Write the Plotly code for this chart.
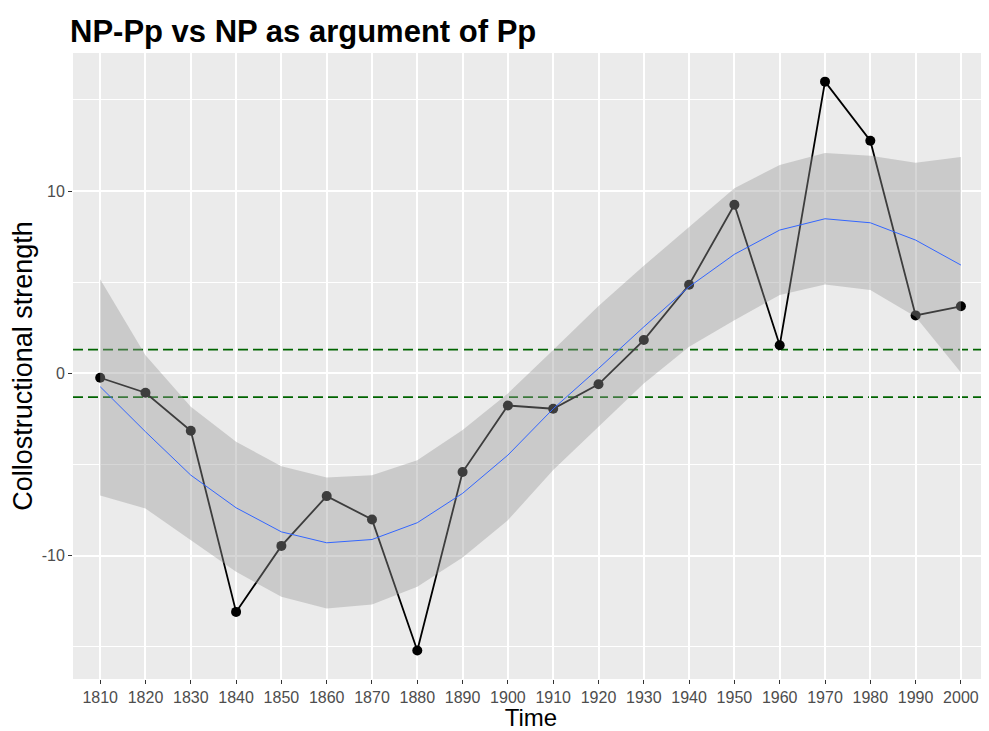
import plotly.graph_objects as go

years = [1810, 1820, 1830, 1840, 1850, 1860, 1870, 1880, 1890, 1900,
         1910, 1920, 1930, 1940, 1950, 1960, 1970, 1980, 1990, 2000]
strength = [-0.24, -1.06, -3.15, -13.08, -9.46, -6.73, -8.01, -15.2, -5.41, -1.76,
            -1.94, -0.60, 1.83, 4.86, 9.25, 1.54, 16.0, 12.76, 3.18, 3.68]
smooth_fit = [-0.73, -3.2, -5.58, -7.37, -8.69, -9.29, -9.11, -8.19, -6.58, -4.48,
              -1.94, 0.27, 2.55, 4.75, 6.53, 7.86, 8.48, 8.26, 7.31, 5.94]
smooth_upper = [5.16, 1.0, -1.83, -3.75, -5.09, -5.71, -5.58, -4.76, -3.11, -1.1,
                1.28, 3.7, 5.9, 8.04, 10.15, 11.43, 12.08, 11.94, 11.55, 11.87]
smooth_lower = [-6.69, -7.41, -9.14, -10.88, -12.25, -12.89, -12.67, -11.7, -10.1, -8.05,
                -5.3, -2.93, -0.55, 1.46, 2.92, 4.3, 4.88, 4.57, 3.1, 0.05]
thresholds = [1.30103, -1.30103]
y_ticks = [-10, 0, 10]
y_tick_labels = ["-10", "0", "10"]

FONT = "Liberation Sans, Arial, Helvetica, sans-serif"
W, H = 981, 723  # page body has an 8px default margin

fig = go.Figure()

fig.add_trace(go.Scatter(
    x=years, y=strength, mode="lines+markers",
    line=dict(color="black", width=1.8),
    marker=dict(color="black", size=10),
    showlegend=False, hoverinfo="x+y"))

fig.add_trace(go.Scatter(
    x=years + years[::-1], y=smooth_upper + smooth_lower[::-1],
    fill="toself", fillcolor="rgba(153,153,153,0.4)",
    line=dict(width=0), mode="lines", showlegend=False, hoverinfo="skip"))

fig.add_trace(go.Scatter(
    x=years, y=smooth_fit, mode="lines",
    line=dict(color="#3366FF", width=1),
    showlegend=False))

for t in thresholds:
    fig.add_shape(type="line", xref="paper", x0=0, x1=1, yref="y", y0=t, y1=t,
                  line=dict(color="#006400", width=1.6, dash="10px,5px"),
                  layer="between")

fig.update_layout(
    width=W, height=H,
    paper_bgcolor="white", plot_bgcolor="#EBEBEB",
    margin=dict(l=65, r=0, t=45, b=52),
    font=dict(family=FONT, color="black"),
    title=dict(text="<b>NP-Pp vs NP as argument of Pp</b>",
               x=62/W, xanchor="left", xref="container",
               y=1 - 23/H, yanchor="middle", yref="container",
               font=dict(size=31, color="black", family=FONT)),
    xaxis=dict(
        range=[1804, 2006.2], tickvals=years, ticktext=[str(y) for y in years],
        showgrid=True, gridcolor="white", gridwidth=2,
        zeroline=False, showline=False,
        ticks="outside", ticklen=4, tickcolor="#333333", tickwidth=1,
        tickfont=dict(size=16, color="#4D4D4D"),
        title=dict(text="Time", font=dict(size=24, color="black"), standoff=7)),
    yaxis=dict(
        range=[-16.76, 17.57], tickvals=y_ticks, ticktext=y_tick_labels,
        showgrid=True, gridcolor="white", gridwidth=2,
        minor=dict(tickvals=[-15, -5, 5, 15], showgrid=True, gridcolor="white", gridwidth=1),
        zeroline=False, showline=False,
        ticks="outside", ticklen=4, tickcolor="#333333", tickwidth=1,
        tickfont=dict(size=16, color="#4D4D4D"),
        title=dict(text="Collostructional strength", font=dict(size=27, color="black"), standoff=4)),
)

fig.write_html("out.html")
